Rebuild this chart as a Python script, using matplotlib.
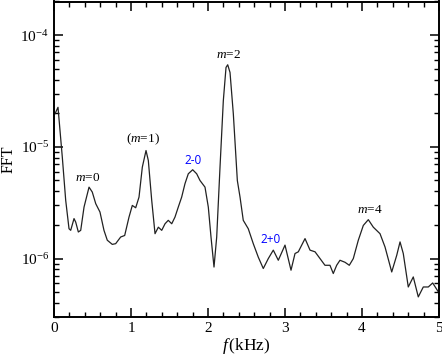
import numpy as np
import matplotlib
matplotlib.use("Agg")
import matplotlib.pyplot as plt
from matplotlib.ticker import LogLocator, MultipleLocator, NullFormatter

plt.rcParams['font.family'] = ['Liberation Serif', 'DejaVu Serif']
plt.rcParams['mathtext.fontset'] = 'custom'
plt.rcParams['mathtext.rm'] = 'Liberation Serif'
plt.rcParams['mathtext.it'] = 'Liberation Serif:italic'

# frequency (kHz)
freq = [0.013, 0.052, 0.108, 0.152, 0.195, 0.217, 0.260, 0.282, 0.316, 0.347,
        0.390, 0.455, 0.497, 0.542, 0.597, 0.649, 0.692, 0.757, 0.801, 0.866,
        0.918, 0.974, 1.017, 1.061, 1.104, 1.147, 1.195, 1.225, 1.269, 1.312,
        1.355, 1.399, 1.442, 1.484, 1.529, 1.571, 1.614, 1.658, 1.701, 1.744,
        1.801, 1.853, 1.896, 1.961, 2.004, 2.039, 2.078, 2.113, 2.156, 2.199,
        2.234, 2.256, 2.286, 2.329, 2.381, 2.416, 2.458, 2.523, 2.588, 2.653,
        2.718, 2.783, 2.848, 2.913, 3.000, 3.078, 3.130, 3.173, 3.260, 3.325,
        3.390, 3.455, 3.519, 3.584, 3.627, 3.671, 3.714, 3.779, 3.835, 3.887,
        3.952, 4.017, 4.082, 4.147, 4.234, 4.299, 4.386, 4.451, 4.494, 4.536,
        4.601, 4.666, 4.731, 4.796, 4.861, 4.918, 4.991]
# FFT amplitude (units of 1e-6)
fft_e6 = [19.8, 22.6, 8.07, 3.32, 1.85, 1.79, 2.28, 2.12, 1.73, 1.79,
          2.89, 4.36, 3.94, 3.10, 2.61, 1.79, 1.46, 1.34, 1.36, 1.56,
          1.61, 2.35, 2.99, 2.85, 3.55, 6.58, 9.27, 7.55, 3.32, 1.67,
          1.91, 1.79, 2.05, 2.20, 2.05, 2.35, 2.89, 3.55, 4.68, 5.74,
          6.24, 5.74, 5.00, 4.36, 2.89, 1.56, 0.84, 1.56, 6.58, 25.9,
          51.4, 54.3, 46.3, 19.7, 5.00, 3.55, 2.20, 1.85, 1.36, 1.03,
          0.815, 1.0, 1.19, 0.966, 1.32, 0.787, 1.11, 1.15, 1.51, 1.19,
          1.15, 1.0, 0.871, 0.871, 0.735, 0.871, 0.966, 0.927, 0.871, 1.0,
          1.46, 1.98, 2.23, 1.91, 1.67, 1.27, 0.759, 1.07, 1.41, 1.11,
          0.557, 0.685, 0.454, 0.557, 0.557, 0.605, 0.504]

labels = [r'$m$=0', r'($m$=1)', '2-0', r'$m$=2', '2+0', r'$m$=4']
label_f = [0.437, 1.16, 1.81, 2.264, 2.818, 4.095]
label_y = [5.25e-6, 1.18e-5, 7.55e-6, 6.6e-5, 1.49e-6, 2.74e-6]
label_colors = ['black', 'black', 'blue', 'black', 'blue', 'black']
label_fonts = ['serif', 'serif', 'sans', 'serif', 'sans', 'serif']

fig = plt.figure(figsize=(4.42, 3.59), dpi=100)
ax = fig.add_axes([54/442, 1 - 317/359, (439-54)/442, (317-1.5)/359])

ax.plot(freq, np.array(fft_e6) * 1e-6, color='#222222', lw=0.9)
ax.set_yscale('log')
ax.set_xlim(0, 5)
ax.set_ylim(3e-7, 2e-4)

for t, xf, yv, c, fn in zip(labels, label_f, label_y, label_colors, label_fonts):
    fam = ['Liberation Serif'] if fn == 'serif' else ['Open Sans', 'DejaVu Sans']
    ax.text(xf, yv, t, color=c, fontsize=9.5 if fn == 'serif' else 8.5,
            ha='center', va='center', family=fam)

ax.xaxis.set_major_locator(MultipleLocator(1))
ax.xaxis.set_minor_locator(MultipleLocator(0.2))
ax.yaxis.set_major_locator(LogLocator(base=10, numticks=10))
ax.yaxis.set_minor_locator(LogLocator(base=10, subs=np.arange(2, 10), numticks=20))
ax.yaxis.set_minor_formatter(NullFormatter())

ax.tick_params(which='both', direction='in', top=True, right=True, labelsize=11)
ax.tick_params(which='major', length=6.5, width=1.1)
ax.tick_params(which='minor', length=3.8, width=1.0)
for s in ax.spines.values():
    s.set_linewidth(1.4)

ax.set_ylabel('FFT', fontsize=11.5, labelpad=3)
ax.set_xlabel(r'$f\,$(kHz)', fontsize=12.5, labelpad=1)

fig.savefig('out.png', dpi=100)
